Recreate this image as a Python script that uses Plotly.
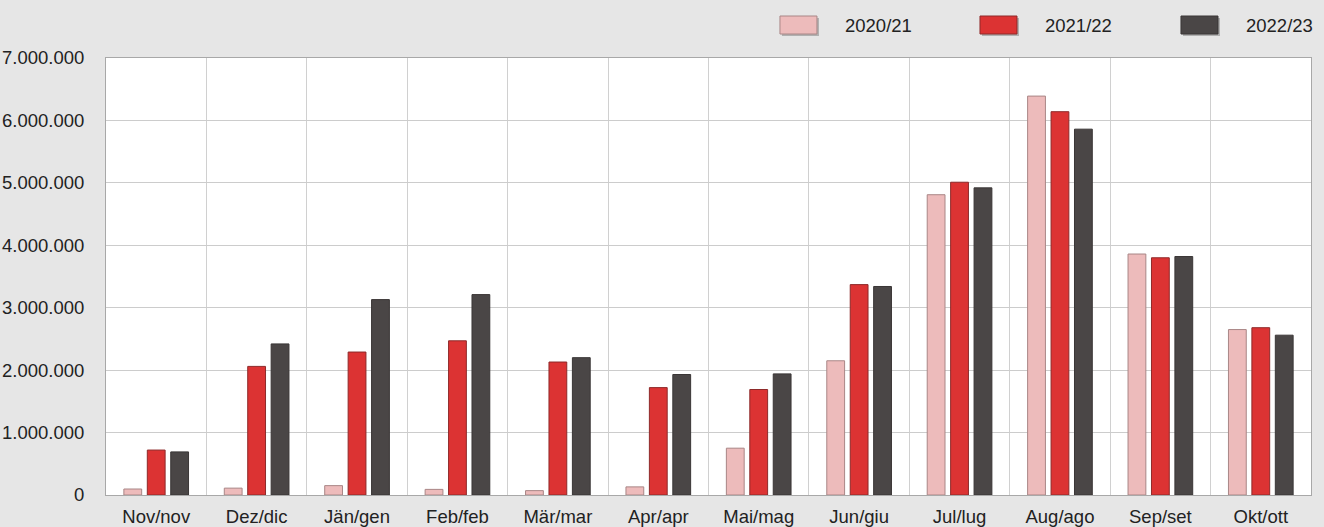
import plotly.graph_objects as go

categories = ["Nov/nov", "Dez/dic", "Jän/gen", "Feb/feb", "Mär/mar", "Apr/apr",
              "Mai/mag", "Jun/giu", "Jul/lug", "Aug/ago", "Sep/set", "Okt/ott"]
series_names = ["2020/21", "2021/22", "2022/23"]
values_2020_21 = [96000, 110000, 150000, 90000, 70000, 130000, 750000, 2150000, 4810000, 6390000, 3860000, 2650000]
values_2021_22 = [720000, 2060000, 2290000, 2470000, 2130000, 1720000, 1690000, 3370000, 5010000, 6140000, 3800000, 2680000]
values_2022_23 = [690000, 2420000, 3130000, 3210000, 2200000, 1930000, 1940000, 3340000, 4920000, 5860000, 3820000, 2560000]
y_ticks = [0, 1000000, 2000000, 3000000, 4000000, 5000000, 6000000, 7000000]

colors = ["#EDBBBB", "#DC3333", "#4A4646"]
outline = ["#A98686", "#8E2A2A", "#3A3636"]
all_values = [values_2020_21, values_2021_22, values_2022_23]

FONT = "Liberation Sans, Arial, sans-serif"
FS = 18.5

fig = go.Figure()
for name, vals, c, oc in zip(series_names, all_values, colors, outline):
    fig.add_trace(go.Bar(x=categories, y=vals, name=name,
                         marker=dict(color=c, line=dict(color=oc, width=1)),
                         showlegend=False))

# custom legend (decorative boxes + labels)
legend_box_x = [0.5593, 0.7253, 0.8921]
legend_text_x = [0.6116, 0.7776, 0.9444]
legend_y = 1.0755
for i, name in enumerate(series_names):
    fig.add_shape(type="rect", xref="paper", yref="paper", xsizemode="pixel", ysizemode="pixel",
                  xanchor=legend_box_x[i], yanchor=legend_y, x0=2, x1=39, y0=-11, y1=7,
                  fillcolor="#B0B0B0", line=dict(width=0), layer="above")
    fig.add_shape(type="rect", xref="paper", yref="paper", xsizemode="pixel", ysizemode="pixel",
                  xanchor=legend_box_x[i], yanchor=legend_y, x0=0, x1=37, y0=-9, y1=9,
                  fillcolor=colors[i], line=dict(color=outline[i], width=1), layer="above")
    fig.add_annotation(x=legend_text_x[i], y=legend_y, xref="paper", yref="paper",
                       text=name, showarrow=False, xanchor="left", yanchor="middle",
                       font=dict(family=FONT, size=FS, color="#222222"))

fig.update_layout(
    width=1324, height=527,
    margin=dict(l=106, r=13, t=58, b=32, autoexpand=False),
    paper_bgcolor="#E6E6E6",
    plot_bgcolor="#FFFFFF",
    separators=",.",
    barmode="group",
    bargap=0.3,
    bargroupgap=0.24,
    font=dict(family=FONT, size=FS, color="#222222"),
    showlegend=False,
)
fig.update_xaxes(
    type="category", tickson="boundaries", showgrid=True, gridcolor="#D0D0D0", gridwidth=1,
    ticks="", showline=True, linecolor="#A8A8A8", linewidth=1, mirror=True, automargin=False,
    tickfont=dict(family=FONT, size=FS, color="#222222"), ticklabelstandoff=5,
)
fig.update_yaxes(
    range=[0, 7000000], tickvals=y_ticks, tickformat=",d", showgrid=True,
    gridcolor="#CCCCCC", gridwidth=1, zeroline=False, showline=True, linecolor="#A8A8A8",
    linewidth=1, mirror=True, ticks="", ticklabelstandoff=17, automargin=False,
    tickfont=dict(family=FONT, size=FS, color="#222222"),
)

fig.write_html("out.html", config={"displayModeBar": False})

# remove default page margin so the figure fills the window exactly
with open("out.html", "r", encoding="utf-8") as f:
    html = f.read()
html = html.replace("<body>", '<body style="margin:0;padding:0;overflow:hidden;background:#E6E6E6">', 1)
with open("out.html", "w", encoding="utf-8") as f:
    f.write(html)
